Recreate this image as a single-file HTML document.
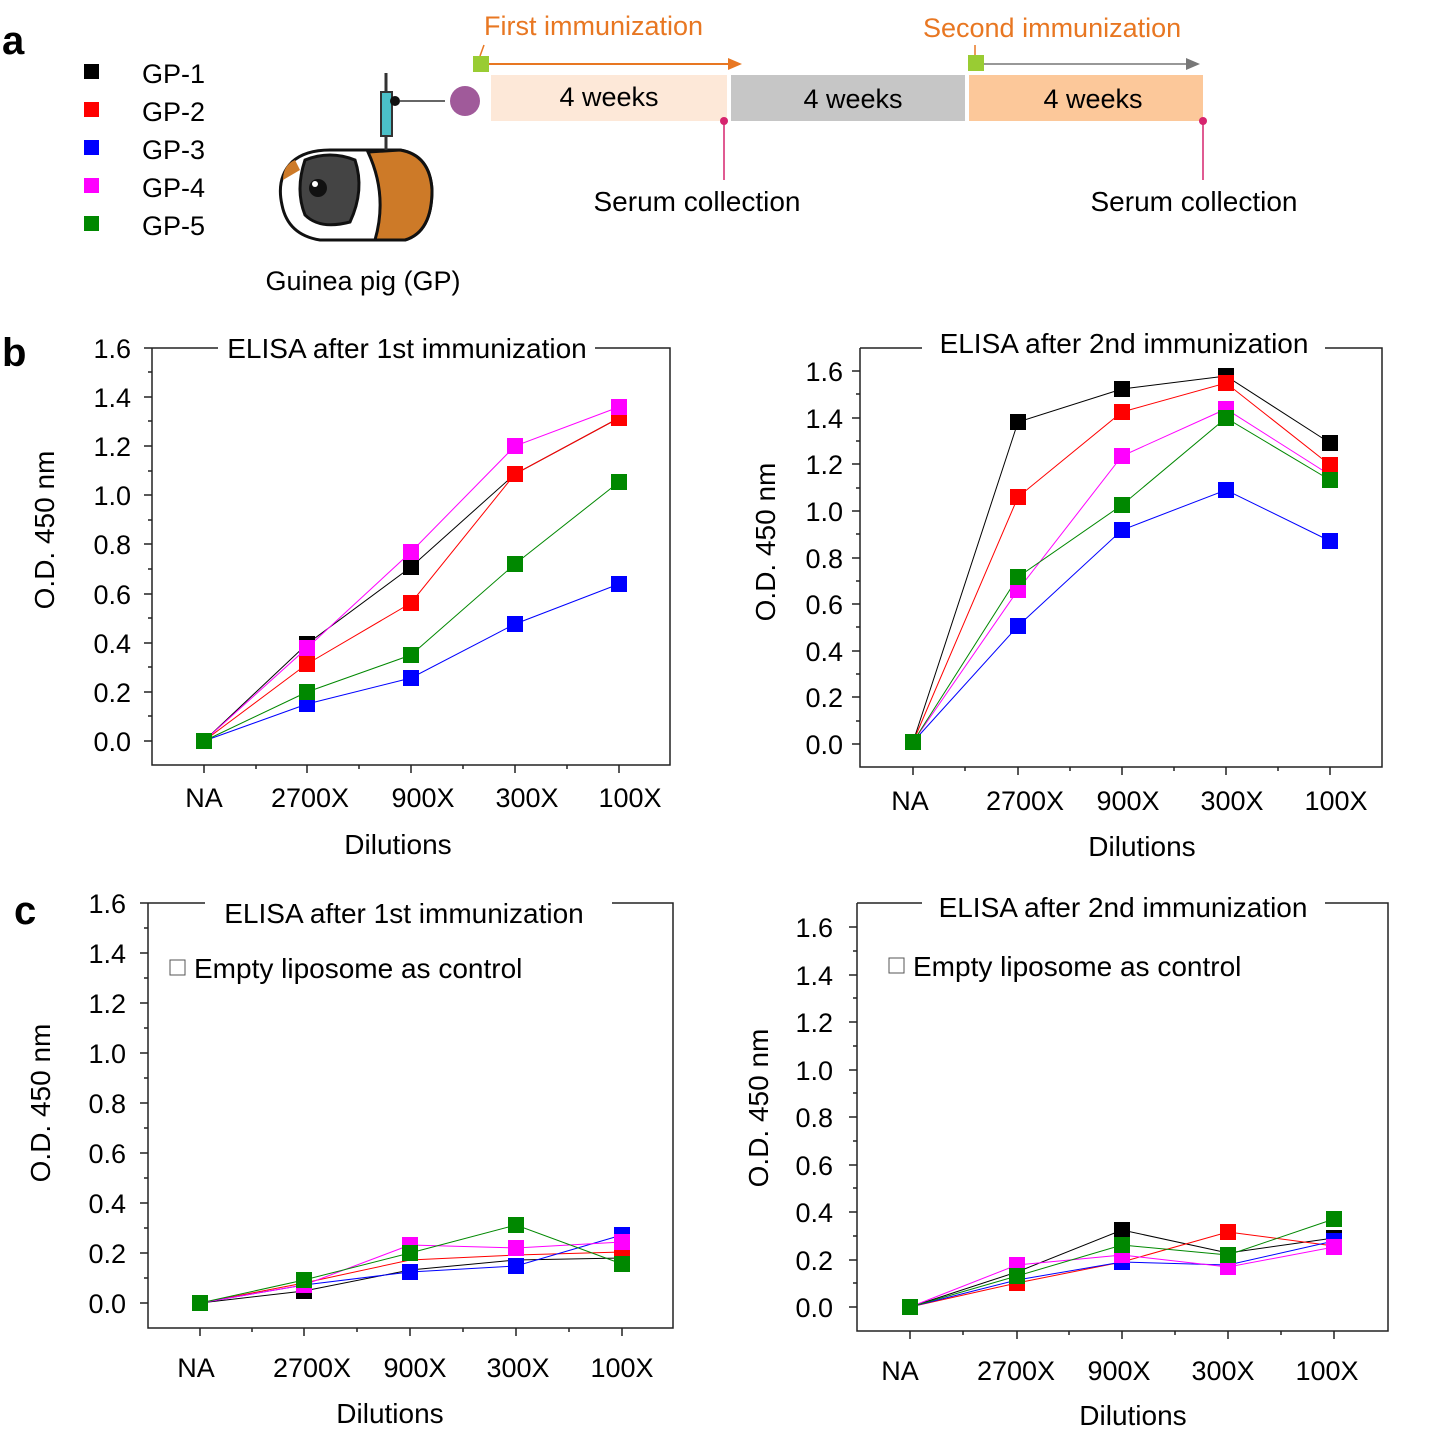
<!DOCTYPE html>
<html><head><meta charset="utf-8"><style>
body{margin:0;background:#fff}
svg text{font-family:"Liberation Sans",Arial,sans-serif}
</style></head><body>
<svg width="1431" height="1434" viewBox="0 0 1431 1434" xmlns="http://www.w3.org/2000/svg">
<rect width="1431" height="1434" fill="#fff"/>
<!-- Panel a -->
<text x="2" y="54" font-size="40" font-weight="bold">a</text>
<g font-size="27">
<rect x="84" y="64" width="15" height="15" fill="#000"/><text x="142" y="83">GP-1</text>
<rect x="84" y="102" width="15" height="15" fill="#f00"/><text x="142" y="121">GP-2</text>
<rect x="84" y="140" width="15" height="15" fill="#00f"/><text x="142" y="159">GP-3</text>
<rect x="84" y="178" width="15" height="15" fill="#f0f"/><text x="142" y="197">GP-4</text>
<rect x="84" y="216" width="15" height="15" fill="#080"/><text x="142" y="235">GP-5</text>
</g>
<!-- guinea pig -->
<g stroke="#111" stroke-width="3">
<path d="M282 205 Q276 178 292 162 Q305 150 330 150 L400 150 Q430 155 432 190 Q432 232 405 240 L320 240 Q288 235 282 205Z" fill="#fff"/>
<path d="M368 152 L400 150 Q430 155 432 190 Q432 232 405 240 L375 240 Q388 195 368 152Z" fill="#cd7a28"/>
<path d="M305 160 Q330 150 355 160 Q365 190 350 222 Q320 230 305 215 Q295 190 305 160Z" fill="#444"/>
</g>
<path d="M283 180 Q283 165 295 160 L300 170Z" fill="#cd7a28"/>
<circle cx="318" cy="188" r="9" fill="#111"/><circle cx="315" cy="184" r="3" fill="#fff"/>
<path d="M386 73 L386 150" stroke="#333" stroke-width="3"/>
<rect x="381" y="92" width="11" height="44" fill="#4bc0c8" stroke="#333" stroke-width="2"/>
<circle cx="395" cy="101" r="5" fill="#111"/>
<line x1="400" y1="101" x2="445" y2="101" stroke="#666" stroke-width="2"/>
<circle cx="465" cy="101" r="15" fill="#a05a9a"/>
<text x="363" y="290" font-size="27" text-anchor="middle">Guinea pig (GP)</text>
<!-- timeline -->
<rect x="491" y="75" width="236" height="46" fill="#fde8d8"/>
<rect x="731" y="75" width="234" height="46" fill="#c6c6c6"/>
<rect x="969" y="75" width="234" height="46" fill="#fcc89a"/>
<g font-size="27" text-anchor="middle">
<text x="609" y="106">4 weeks</text><text x="853" y="108">4 weeks</text><text x="1093" y="108">4 weeks</text>
</g>
<rect x="473" y="56" width="16" height="16" fill="#9c3"/>
<rect x="968" y="55" width="16" height="16" fill="#9c3"/>
<line x1="484" y1="45" x2="480" y2="56" stroke="#e87722" stroke-width="1.5"/>
<line x1="975" y1="45" x2="975" y2="55" stroke="#e87722" stroke-width="1.5"/>
<line x1="489" y1="64" x2="730" y2="64" stroke="#e87722" stroke-width="2"/>
<path d="M742 64 L728 58 L728 70Z" fill="#e87722"/>
<line x1="984" y1="64" x2="1188" y2="64" stroke="#777" stroke-width="1.5"/>
<path d="M1200 64 L1186 58 L1186 70Z" fill="#777"/>
<text x="484" y="35" font-size="27" fill="#e87722">First immunization</text>
<text x="923" y="37" font-size="27" fill="#e87722">Second immunization</text>
<line x1="724" y1="121" x2="724" y2="180" stroke="#d6246e" stroke-width="1.5"/><circle cx="724" cy="121" r="4" fill="#d6246e"/>
<line x1="1203" y1="121" x2="1203" y2="180" stroke="#d6246e" stroke-width="1.5"/><circle cx="1203" cy="121" r="4" fill="#d6246e"/>
<text x="697" y="211" font-size="28" text-anchor="middle">Serum collection</text>
<text x="1194" y="211" font-size="28" text-anchor="middle">Serum collection</text>

<text x="2" y="366" font-size="40" font-weight="bold">b</text>
<text x="14" y="924" font-size="40" font-weight="bold">c</text>

<!-- Chart b1 -->
<g stroke="#222" stroke-width="1.5" fill="none">
<path d="M152 348 V765 H670 V348 H595 M218 348 H152"/>
<path d="M144 348H152M144 397H152M144 446H152M144 495H152M144 544H152M144 594H152M144 643H152M144 692H152M144 741H152"/>
<path d="M148 372H152M148 421H152M148 471H152M148 520H152M148 569H152M148 618H152M148 667H152M148 716H152"/>
<path d="M204 765V773M307 765V773M411 765V773M515 765V773M619 765V773M256 765V769M359 765V769M463 765V769M567 765V769"/>
</g>
<g font-size="27" text-anchor="end">
<text x="131" y="358">1.6</text><text x="131" y="407">1.4</text><text x="131" y="456">1.2</text><text x="131" y="505">1.0</text><text x="131" y="554">0.8</text><text x="131" y="604">0.6</text><text x="131" y="653">0.4</text><text x="131" y="702">0.2</text><text x="131" y="751">0.0</text>
</g>
<g font-size="27" text-anchor="middle">
<text x="204" y="807">NA</text><text x="310" y="807">2700X</text><text x="423" y="807">900X</text><text x="527" y="807">300X</text><text x="630" y="807">100X</text>
<text x="398" y="854" font-size="28">Dilutions</text>
<text x="407" y="358" font-size="28">ELISA after 1st immunization</text>
</g>
<text transform="translate(54 530) rotate(-90)" font-size="28" text-anchor="middle">O.D. 450 nm</text>
<g stroke-width="1">
<polyline points="204,741 307,644 411,567 515,474 619,418" stroke="#000" fill="none"/>
<polyline points="204,741 307,664 411,603 515,474 619,418" stroke="#f00" fill="none"/>
<polyline points="204,741 307,704 411,678 515,624 619,584" stroke="#00f" fill="none"/>
<polyline points="204,741 307,648 411,552 515,446 619,407" stroke="#f0f" fill="none"/>
<polyline points="204,741 307,692 411,655 515,564 619,482" stroke="#080" fill="none"/>
</g>
<g>
<rect x="299" y="636" width="16" height="16" fill="#000"/><rect x="403" y="559" width="16" height="16" fill="#000"/><rect x="507" y="466" width="16" height="16" fill="#000"/>
<rect x="299" y="656" width="16" height="16" fill="#f00"/><rect x="403" y="595" width="16" height="16" fill="#f00"/><rect x="507" y="466" width="16" height="16" fill="#f00"/><rect x="611" y="410" width="16" height="16" fill="#f00"/>
<rect x="299" y="696" width="16" height="16" fill="#00f"/><rect x="403" y="670" width="16" height="16" fill="#00f"/><rect x="507" y="616" width="16" height="16" fill="#00f"/><rect x="611" y="576" width="16" height="16" fill="#00f"/>
<rect x="299" y="640" width="16" height="16" fill="#f0f"/><rect x="403" y="544" width="16" height="16" fill="#f0f"/><rect x="507" y="438" width="16" height="16" fill="#f0f"/><rect x="611" y="399" width="16" height="16" fill="#f0f"/>
<rect x="299" y="684" width="16" height="16" fill="#080"/><rect x="403" y="647" width="16" height="16" fill="#080"/><rect x="507" y="556" width="16" height="16" fill="#080"/><rect x="611" y="474" width="16" height="16" fill="#080"/>
<rect x="196" y="733" width="16" height="16" fill="#080"/>
</g>

<!-- Chart b2 -->
<g stroke="#222" stroke-width="1.5" fill="none">
<path d="M860 348 V767 H1382 V348 H1325 M922 348 H860"/>
<path d="M852 371H860M852 418H860M852 464H860M852 511H860M852 558H860M852 604H860M852 651H860M852 697H860M852 744H860"/>
<path d="M856 394H860M856 441H860M856 488H860M856 534H860M856 581H860M856 627H860M856 674H860M856 721H860"/>
<path d="M913 767V775M1018 767V775M1122 767V775M1226 767V775M1330 767V775M965 767V771M1070 767V771M1174 767V771M1278 767V771"/>
</g>
<g font-size="27" text-anchor="end">
<text x="843" y="381">1.6</text><text x="843" y="428">1.4</text><text x="843" y="474">1.2</text><text x="843" y="521">1.0</text><text x="843" y="568">0.8</text><text x="843" y="614">0.6</text><text x="843" y="661">0.4</text><text x="843" y="707">0.2</text><text x="843" y="754">0.0</text>
</g>
<g font-size="27" text-anchor="middle">
<text x="910" y="810">NA</text><text x="1025" y="810">2700X</text><text x="1128" y="810">900X</text><text x="1232" y="810">300X</text><text x="1336" y="810">100X</text>
<text x="1142" y="856" font-size="28">Dilutions</text>
<text x="1124" y="353" font-size="28">ELISA after 2nd immunization</text>
</g>
<text transform="translate(775 542) rotate(-90)" font-size="28" text-anchor="middle">O.D. 450 nm</text>
<g stroke-width="1" fill="none">
<polyline points="913,742 1018,422 1122,389 1226,376 1330,443" stroke="#000"/>
<polyline points="913,742 1018,497 1122,412 1226,383 1330,465" stroke="#f00"/>
<polyline points="913,742 1018,626 1122,530 1226,490 1330,541" stroke="#00f"/>
<polyline points="913,742 1018,590 1122,456 1226,409 1330,475" stroke="#f0f"/>
<polyline points="913,742 1018,577 1122,505 1226,418 1330,480" stroke="#080"/>
</g>
<g>
<rect x="1010" y="414" width="16" height="16" fill="#000"/><rect x="1114" y="381" width="16" height="16" fill="#000"/><rect x="1218" y="368" width="16" height="16" fill="#000"/><rect x="1322" y="435" width="16" height="16" fill="#000"/>
<rect x="1010" y="489" width="16" height="16" fill="#f00"/><rect x="1114" y="404" width="16" height="16" fill="#f00"/><rect x="1218" y="375" width="16" height="16" fill="#f00"/><rect x="1322" y="457" width="16" height="16" fill="#f00"/>
<rect x="1010" y="618" width="16" height="16" fill="#00f"/><rect x="1114" y="522" width="16" height="16" fill="#00f"/><rect x="1218" y="482" width="16" height="16" fill="#00f"/><rect x="1322" y="533" width="16" height="16" fill="#00f"/>
<rect x="1010" y="582" width="16" height="16" fill="#f0f"/><rect x="1114" y="448" width="16" height="16" fill="#f0f"/><rect x="1218" y="401" width="16" height="16" fill="#f0f"/>
<rect x="1010" y="569" width="16" height="16" fill="#080"/><rect x="1114" y="497" width="16" height="16" fill="#080"/><rect x="1218" y="410" width="16" height="16" fill="#080"/><rect x="1322" y="472" width="16" height="16" fill="#080"/>
<rect x="905" y="734" width="16" height="16" fill="#080"/>
</g>

<!-- Chart c1 -->
<g stroke="#222" stroke-width="1.5" fill="none">
<path d="M148 903 V1328 H673 V903 H612 M205 903 H148"/>
<path d="M140 903H148M140 953H148M140 1003H148M140 1053H148M140 1103H148M140 1153H148M140 1203H148M140 1253H148M140 1303H148"/>
<path d="M144 928H148M144 978H148M144 1028H148M144 1078H148M144 1128H148M144 1178H148M144 1228H148M144 1278H148"/>
<path d="M200 1328V1336M304 1328V1336M410 1328V1336M516 1328V1336M622 1328V1336M252 1328V1332M357 1328V1332M463 1328V1332M569 1328V1332"/>
</g>
<g font-size="27" text-anchor="end">
<text x="126" y="913">1.6</text><text x="126" y="963">1.4</text><text x="126" y="1013">1.2</text><text x="126" y="1063">1.0</text><text x="126" y="1113">0.8</text><text x="126" y="1163">0.6</text><text x="126" y="1213">0.4</text><text x="126" y="1263">0.2</text><text x="126" y="1313">0.0</text>
</g>
<g font-size="27" text-anchor="middle">
<text x="196" y="1377">NA</text><text x="312" y="1377">2700X</text><text x="415" y="1377">900X</text><text x="518" y="1377">300X</text><text x="622" y="1377">100X</text>
<text x="390" y="1423" font-size="28">Dilutions</text>
<text x="404" y="923" font-size="28">ELISA after 1st immunization</text>
</g>
<rect x="170" y="960" width="15" height="15" fill="#fff" stroke="#555"/>
<text x="194" y="978" font-size="28">Empty liposome as control</text>
<text transform="translate(50 1103) rotate(-90)" font-size="28" text-anchor="middle">O.D. 450 nm</text>
<g stroke-width="1" fill="none">
<polyline points="200,1303 304,1291 410,1270 516,1260 622,1258" stroke="#000"/>
<polyline points="200,1303 304,1283 410,1260 516,1255 622,1252" stroke="#f00"/>
<polyline points="200,1303 304,1285 410,1272 516,1266 622,1235" stroke="#00f"/>
<polyline points="200,1303 304,1285 410,1245 516,1248 622,1242" stroke="#f0f"/>
<polyline points="200,1303 304,1280 410,1253 516,1225 622,1264" stroke="#080"/>
</g>
<g>
<rect x="296" y="1283" width="16" height="16" fill="#000"/>
<rect x="614" y="1244" width="16" height="16" fill="#f00"/>
<rect x="402" y="1264" width="16" height="16" fill="#00f"/><rect x="508" y="1258" width="16" height="16" fill="#00f"/><rect x="614" y="1227" width="16" height="16" fill="#00f"/>
<rect x="296" y="1277" width="16" height="16" fill="#f0f"/><rect x="402" y="1237" width="16" height="16" fill="#f0f"/><rect x="508" y="1240" width="16" height="16" fill="#f0f"/><rect x="614" y="1234" width="16" height="16" fill="#f0f"/>
<rect x="296" y="1272" width="16" height="16" fill="#080"/><rect x="402" y="1245" width="16" height="16" fill="#080"/><rect x="508" y="1217" width="16" height="16" fill="#080"/><rect x="614" y="1256" width="16" height="16" fill="#080"/>
<rect x="192" y="1295" width="16" height="16" fill="#080"/>
</g>

<!-- Chart c2 -->
<g stroke="#222" stroke-width="1.5" fill="none">
<path d="M857 903 V1331 H1388 V903 H1325 M922 903 H857"/>
<path d="M849 927H857M849 975H857M849 1022H857M849 1070H857M849 1117H857M849 1165H857M849 1212H857M849 1260H857M849 1307H857"/>
<path d="M853 951H857M853 998H857M853 1046H857M853 1093H857M853 1141H857M853 1188H857M853 1236H857M853 1283H857"/>
<path d="M910 1331V1339M1017 1331V1339M1122 1331V1339M1228 1331V1339M1334 1331V1339M963 1331V1335M1069 1331V1335M1175 1331V1335M1281 1331V1335"/>
</g>
<g font-size="27" text-anchor="end">
<text x="833" y="937">1.6</text><text x="833" y="985">1.4</text><text x="833" y="1032">1.2</text><text x="833" y="1080">1.0</text><text x="833" y="1127">0.8</text><text x="833" y="1175">0.6</text><text x="833" y="1222">0.4</text><text x="833" y="1270">0.2</text><text x="833" y="1317">0.0</text>
</g>
<g font-size="27" text-anchor="middle">
<text x="900" y="1380">NA</text><text x="1016" y="1380">2700X</text><text x="1119" y="1380">900X</text><text x="1223" y="1380">300X</text><text x="1327" y="1380">100X</text>
<text x="1133" y="1425" font-size="28">Dilutions</text>
<text x="1123" y="917" font-size="28">ELISA after 2nd immunization</text>
</g>
<rect x="889" y="958" width="15" height="15" fill="#fff" stroke="#555"/>
<text x="913" y="976" font-size="28">Empty liposome as control</text>
<text transform="translate(768 1108) rotate(-90)" font-size="28" text-anchor="middle">O.D. 450 nm</text>
<g stroke-width="1" fill="none">
<polyline points="910,1307 1017,1272 1122,1230 1228,1253 1334,1238" stroke="#000"/>
<polyline points="910,1307 1017,1283 1122,1262 1228,1232 1334,1246" stroke="#f00"/>
<polyline points="910,1307 1017,1280 1122,1262 1228,1265 1334,1241" stroke="#00f"/>
<polyline points="910,1307 1017,1265 1122,1255 1228,1267 1334,1247" stroke="#f0f"/>
<polyline points="910,1307 1017,1276 1122,1245 1228,1255 1334,1219" stroke="#080"/>
</g>
<g>
<rect x="1114" y="1222" width="16" height="16" fill="#000"/><rect x="1326" y="1230" width="16" height="16" fill="#000"/>
<rect x="1009" y="1275" width="16" height="16" fill="#f00"/><rect x="1220" y="1224" width="16" height="16" fill="#f00"/>
<rect x="1114" y="1254" width="16" height="16" fill="#00f"/><rect x="1326" y="1233" width="16" height="16" fill="#00f"/>
<rect x="1009" y="1257" width="16" height="16" fill="#f0f"/><rect x="1114" y="1247" width="16" height="16" fill="#f0f"/><rect x="1220" y="1259" width="16" height="16" fill="#f0f"/><rect x="1326" y="1239" width="16" height="16" fill="#f0f"/>
<rect x="1009" y="1268" width="16" height="16" fill="#080"/><rect x="1114" y="1237" width="16" height="16" fill="#080"/><rect x="1220" y="1247" width="16" height="16" fill="#080"/><rect x="1326" y="1211" width="16" height="16" fill="#080"/>
<rect x="902" y="1299" width="16" height="16" fill="#080"/>
</g>
</svg>
</body></html>
